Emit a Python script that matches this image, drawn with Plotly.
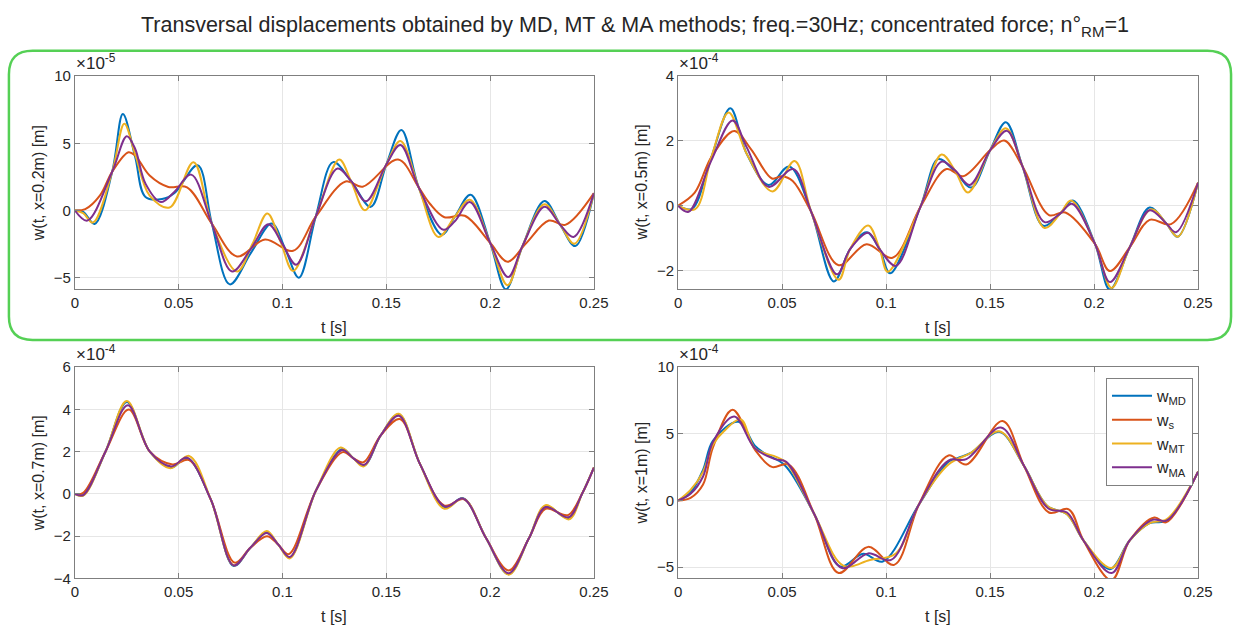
import plotly.graph_objects as go

# ---------------- data ----------------
# Top-left panel: w(t, x=0.2m), values in units of 1e-5 m
TL_MD_t = [0, 0.004, 0.0095, 0.018, 0.0231, 0.029, 0.034, 0.042, 0.048, 0.0591, 0.066, 0.0746, 0.085, 0.0948, 0.1014, 0.1079, 0.116, 0.1244, 0.133, 0.1425, 0.15, 0.1573, 0.1656, 0.1767, 0.183, 0.1906, 0.2, 0.2076, 0.2156, 0.2262, 0.2338, 0.241, 0.25]
TL_MD = [0, -0.1, -1.0, 2.9, 7.18, 4.0, 1.0, 0.85, 1.3, 3.37, -1.0, -5.5, -3.1, -0.97, -2.9, -5.0, -0.46, 3.6, 2.2, 0.27, 3.42, 6.0, 1.72, -1.8, -0.46, 1.17, -2.4, -5.87, -2.65, 0.7, -1.07, -2.65, 1.29]
TL_S_t = [0, 0.005, 0.012, 0.018, 0.0258, 0.029, 0.036, 0.045, 0.054, 0.066, 0.0781, 0.0916, 0.1051, 0.116, 0.1304, 0.1386, 0.1557, 0.1656, 0.171, 0.178, 0.1878, 0.2, 0.2084, 0.217, 0.2283, 0.2362, 0.25]
TL_S = [0, 0.1, 1.1, 2.9, 4.34, 4.1, 2.6, 1.75, 1.72, -1.0, -3.42, -2.16, -3.0, -0.46, 2.16, 1.77, 3.79, 1.72, 0.5, -0.5, -0.39, -2.4, -3.81, -2.5, -0.75, -1.07, 1.29]
TL_MT_t = [0, 0.004, 0.0087, 0.018, 0.0238, 0.029, 0.036, 0.0456, 0.0571, 0.066, 0.0781, 0.0855, 0.0927, 0.099, 0.1051, 0.116, 0.1273, 0.133, 0.1397, 0.15, 0.1568, 0.1656, 0.1751, 0.183, 0.1902, 0.2, 0.2084, 0.2156, 0.2262, 0.2338, 0.2406, 0.25]
TL_MT = [0, -0.2, -0.9, 2.9, 6.46, 4.2, 1.1, 0.22, 3.6, -1.0, -4.54, -2.5, -0.22, -2.3, -4.5, -0.46, 3.79, 2.2, 0.02, 3.42, 5.17, 1.72, -1.97, -0.46, 0.8, -2.4, -5.56, -2.65, 0.46, -1.07, -2.48, 1.29]
TL_MA_t = [0, 0.006, 0.018, 0.025, 0.029, 0.034, 0.0414, 0.048, 0.056, 0.066, 0.0757, 0.085, 0.0932, 0.1, 0.1066, 0.116, 0.1265, 0.133, 0.1402, 0.15, 0.1568, 0.1656, 0.1775, 0.183, 0.1902, 0.2, 0.2087, 0.2156, 0.2262, 0.2338, 0.2402, 0.25]
TL_MA = [0, -0.75, 2.9, 5.53, 4.6, 2.0, 0.63, 1.4, 2.67, -1.0, -4.54, -2.8, -1.02, -2.5, -4.03, -0.46, 3.13, 2.2, 0.68, 3.42, 4.88, 1.72, -1.43, -0.8, 0.63, -2.4, -4.95, -2.65, 0.27, -1.07, -1.97, 1.29]

# Top-right panel: w(t, x=0.5m), units of 1e-4 m
TR_MD_t = [0, 0.0066, 0.016, 0.0251, 0.033, 0.0435, 0.0534, 0.064, 0.0749, 0.0827, 0.0906, 0.0969, 0.1019, 0.1165, 0.1251, 0.133, 0.141, 0.15, 0.1576, 0.1656, 0.1756, 0.1838, 0.1898, 0.2005, 0.2076, 0.2171, 0.2267, 0.2346, 0.2402, 0.25]
TR_MD = [0, -0.1, 1.5, 3.01, 1.6, 0.64, 1.21, -0.19, -2.34, -1.34, -0.82, -1.34, -2.09, -0.04, 1.44, 1.06, 0.56, 1.71, 2.58, 1.21, -0.62, -0.24, 0.16, -1.19, -2.59, -1.29, -0.06, -0.54, -0.96, 0.71]
TR_S_t = [0, 0.008, 0.016, 0.027, 0.035, 0.0451, 0.05, 0.0551, 0.064, 0.0772, 0.0906, 0.1031, 0.1165, 0.129, 0.137, 0.15, 0.1568, 0.1656, 0.1783, 0.1862, 0.2005, 0.2076, 0.2171, 0.2267, 0.237, 0.25]
TR_S = [0, 0.4, 1.5, 2.31, 1.75, 0.84, 0.91, 0.76, -0.19, -1.84, -1.19, -1.61, -0.04, 1.13, 0.91, 1.71, 2.01, 1.21, -0.29, -0.21, -1.19, -2.02, -1.29, -0.44, -0.57, 0.71]
TR_MT_t = [0, 0.0082, 0.016, 0.0243, 0.033, 0.0454, 0.056, 0.064, 0.0772, 0.0827, 0.0914, 0.0969, 0.1008, 0.1165, 0.1267, 0.133, 0.1394, 0.15, 0.1576, 0.1656, 0.1762, 0.1838, 0.1889, 0.2005, 0.2084, 0.2171, 0.2275, 0.2346, 0.2402, 0.25]
TR_MT = [0, -0.11, 1.5, 2.88, 1.6, 0.44, 1.38, -0.19, -2.29, -1.34, -0.61, -1.34, -2.04, -0.04, 1.58, 1.1, 0.41, 1.71, 2.39, 1.21, -0.69, -0.24, 0.16, -1.19, -2.54, -1.29, -0.11, -0.54, -0.96, 0.71]
TR_MA_t = [0, 0.005, 0.016, 0.0262, 0.033, 0.0435, 0.0553, 0.064, 0.0764, 0.0827, 0.0914, 0.0969, 0.1047, 0.1165, 0.1267, 0.133, 0.1402, 0.15, 0.1581, 0.1656, 0.1762, 0.1838, 0.1894, 0.2005, 0.2076, 0.2171, 0.2267, 0.2346, 0.2394, 0.25]
TR_MA = [0, -0.19, 1.4, 2.63, 1.8, 0.58, 1.13, -0.19, -2.12, -1.34, -0.84, -1.34, -1.86, -0.04, 1.36, 1.1, 0.64, 1.71, 2.31, 1.21, -0.51, -0.24, 0.06, -1.19, -2.36, -1.29, -0.14, -0.54, -0.82, 0.71]

# Bottom-left panel: w(t, x=0.7m), units of 1e-4 m
BL_MD_t = [0, 0.004, 0.0147, 0.025, 0.0361, 0.0464, 0.054, 0.0655, 0.0765, 0.0845, 0.0924, 0.098, 0.1035, 0.1162, 0.1288, 0.134, 0.1394, 0.1473, 0.156, 0.1663, 0.1783, 0.187, 0.1981, 0.2089, 0.2187, 0.2267, 0.2378, 0.2444, 0.25]
BL_MD = [0, -0.06, 2.0, 4.35, 2.0, 1.25, 1.7, -0.27, -3.41, -2.55, -1.83, -2.4, -3.01, 0.18, 2.13, 1.7, 1.35, 2.77, 3.76, 1.4, -0.65, -0.2, -2.1, -3.8, -2.1, -0.58, -1.14, 0.03, 1.25]
BL_S_t = [0, 0.004, 0.0147, 0.026, 0.0361, 0.047, 0.055, 0.0655, 0.077, 0.0845, 0.0925, 0.098, 0.103, 0.1162, 0.129, 0.134, 0.139, 0.1473, 0.1565, 0.1663, 0.178, 0.1875, 0.1981, 0.209, 0.2187, 0.2267, 0.2375, 0.2444, 0.25]
BL_S = [0, 0.05, 2.0, 4.0, 2.0, 1.4, 1.6, -0.27, -3.25, -2.55, -2.0, -2.4, -2.85, 0.18, 1.98, 1.7, 1.5, 2.77, 3.55, 1.4, -0.55, -0.25, -2.1, -3.62, -2.1, -0.7, -1.0, 0.03, 1.25]
BL_MT_t = [0, 0.004, 0.0147, 0.025, 0.0361, 0.046, 0.055, 0.0655, 0.0765, 0.0845, 0.0924, 0.098, 0.1035, 0.1162, 0.128, 0.134, 0.139, 0.1473, 0.156, 0.1663, 0.178, 0.187, 0.1981, 0.209, 0.2187, 0.2267, 0.238, 0.2444, 0.25]
BL_MT = [0, -0.08, 2.0, 4.4, 2.0, 1.22, 1.8, -0.27, -3.38, -2.55, -1.75, -2.4, -3.05, 0.18, 2.2, 1.7, 1.3, 2.77, 3.8, 1.4, -0.7, -0.22, -2.1, -3.82, -2.1, -0.53, -1.2, 0.03, 1.25]
BL_MA_t = [0, 0.004, 0.0147, 0.0255, 0.0361, 0.0464, 0.054, 0.0655, 0.0765, 0.0845, 0.0924, 0.098, 0.1035, 0.1162, 0.1288, 0.134, 0.1394, 0.1473, 0.156, 0.1663, 0.1783, 0.187, 0.1981, 0.2089, 0.2187, 0.2267, 0.2378, 0.2444, 0.25]
BL_MA = [0, -0.05, 2.0, 4.2, 2.0, 1.3, 1.72, -0.27, -3.38, -2.55, -1.85, -2.4, -2.98, 0.18, 2.08, 1.7, 1.38, 2.77, 3.7, 1.4, -0.6, -0.22, -2.1, -3.75, -2.1, -0.62, -1.1, 0.03, 1.25]

# Bottom-right panel: w(t, x=1m), units of 1e-4 m
BR_MD_t = [0, 0.006, 0.012, 0.0168, 0.029, 0.037, 0.042, 0.0513, 0.0655, 0.078, 0.089, 0.0984, 0.1158, 0.13, 0.1346, 0.141, 0.1544, 0.1663, 0.1775, 0.187, 0.1949, 0.2076, 0.2171, 0.2267, 0.235, 0.25]
BR_MD = [0, 0.6, 2.3, 4.5, 5.9, 4.1, 3.5, 2.65, -1.03, -4.95, -4.0, -4.58, -0.3, 2.9, 3.2, 3.6, 5.15, 2.6, -0.42, -1.03, -3.0, -5.15, -3.0, -1.7, -1.5, 2.16]
BR_S_t = [0, 0.006, 0.012, 0.0168, 0.0262, 0.037, 0.0451, 0.0532, 0.0655, 0.0772, 0.0914, 0.1039, 0.1158, 0.13, 0.1386, 0.156, 0.1663, 0.1783, 0.1878, 0.1949, 0.2084, 0.2171, 0.229, 0.2346, 0.25]
BR_S = [0, 0.2, 1.2, 4.0, 6.81, 3.8, 2.52, 2.7, -1.03, -5.44, -3.48, -4.83, -0.3, 3.38, 2.7, 5.96, 2.6, -0.9, -0.66, -3.0, -5.98, -3.0, -1.27, -1.64, 2.16]
BR_MT_t = [0, 0.006, 0.012, 0.0168, 0.022, 0.0301, 0.037, 0.0474, 0.052, 0.0655, 0.0796, 0.0922, 0.1047, 0.1158, 0.13, 0.141, 0.1544, 0.1663, 0.1775, 0.187, 0.1949, 0.2084, 0.2171, 0.2267, 0.235, 0.25]
BR_MT = [0, 0.8, 2.15, 4.2, 5.2, 6.08, 3.9, 3.26, 2.85, -1.03, -4.9, -4.46, -3.97, -0.3, 2.7, 3.6, 5.2, 2.6, -0.42, -1.03, -3.0, -5.07, -3.0, -1.7, -1.4, 2.16]
BR_MA_t = [0, 0.006, 0.012, 0.0168, 0.027, 0.037, 0.0466, 0.052, 0.0655, 0.0788, 0.0914, 0.1024, 0.1158, 0.13, 0.1386, 0.1552, 0.1663, 0.178, 0.187, 0.1949, 0.2084, 0.2171, 0.228, 0.235, 0.25]
BR_MA = [0, 0.5, 1.8, 4.4, 6.3, 3.9, 3.1, 2.9, -1.03, -5.07, -3.97, -4.46, -0.3, 3.0, 3.1, 5.47, 2.6, -0.6, -0.9, -3.0, -5.44, -3.0, -1.45, -1.5, 2.16]

SERIES_NAMES = ["w<sub>MD</sub>", "w<sub>s</sub>", "w<sub>MT</sub>", "w<sub>MA</sub>"]
COLORS = ["#0072BD", "#D95319", "#EDB120", "#7E2F8E"]

PANELS = [
    dict(name="TL", data=[(TL_MD_t, TL_MD), (TL_S_t, TL_S), (TL_MT_t, TL_MT), (TL_MA_t, TL_MA)],
         yrange=[-5.87, 10], ytick=[-5, 0, 5, 10], exp="-5", ylabel="w(t, x=0.2m) [m]"),
    dict(name="TR", data=[(TR_MD_t, TR_MD), (TR_S_t, TR_S), (TR_MT_t, TR_MT), (TR_MA_t, TR_MA)],
         yrange=[-2.585, 4], ytick=[-2, 0, 2, 4], exp="-4", ylabel="w(t, x=0.5m) [m]"),
    dict(name="BL", data=[(BL_MD_t, BL_MD), (BL_S_t, BL_S), (BL_MT_t, BL_MT), (BL_MA_t, BL_MA)],
         yrange=[-4, 6], ytick=[-4, -2, 0, 2, 4, 6], exp="-4", ylabel="w(t, x=0.7m) [m]"),
    dict(name="BR", data=[(BR_MD_t, BR_MD), (BR_S_t, BR_S), (BR_MT_t, BR_MT), (BR_MA_t, BR_MA)],
         yrange=[-5.85, 10], ytick=[-5, 0, 5, 10], exp="-4", ylabel="w(t, x=1m) [m]"),
]
X_TICKS = [0, 0.05, 0.1, 0.15, 0.2, 0.25]
X_TICKTEXT = ["0", "0.05", "0.1", "0.15", "0.2", "0.25"]
TITLE = "Transversal displacements obtained by MD, MT &amp; MA methods; freq.=30Hz; concentrated force; n°<sub>RM</sub>=1"

# ---------------- layout geometry (pixels) ----------------
W, H = 1250, 640
def px(x): return x / W
def py(y): return 1 - y / H

BOXES = {  # left, right, top, bottom in pixels
    "TL": (72, 599, 69, 288),
    "TR": (684.5, 1212.5, 69, 288),
    "BL": (72, 599, 368, 585),
    "BR": (684.5, 1212.5, 368, 585),
}

FONT = "Liberation Sans, Arial, Helvetica, sans-serif"
TXT = "#262626"
AXC = "#7f7f7f"
GRID = "#e6e6e6"

fig = go.Figure()
annotations = []
for i, p in enumerate(PANELS):
    n = i + 1
    xa = "x" if n == 1 else f"x{n}"
    ya = "y" if n == 1 else f"y{n}"
    for k, (tt, vv) in enumerate(p["data"]):
        fig.add_trace(go.Scatter(
            x=tt, y=vv, mode="lines", xaxis=xa, yaxis=ya,
            line=dict(color=COLORS[k], width=2, shape="spline", smoothing=1.0),
            name=SERIES_NAMES[k], showlegend=(p["name"] == "BR"),
        ))
    l, r, t, b = BOXES[p["name"]]
    xkey = "xaxis" if n == 1 else f"xaxis{n}"
    ykey = "yaxis" if n == 1 else f"yaxis{n}"
    fig.layout[xkey] = dict(
        domain=[px(l), px(r)], anchor=ya, range=[0, 0.25],
        tickvals=X_TICKS, ticktext=X_TICKTEXT, ticks="inside", ticklen=5,
        tickcolor=AXC, showline=True, linecolor=AXC, linewidth=1, mirror="ticks",
        showgrid=True, gridcolor=GRID, zeroline=False,
        tickfont=dict(family=FONT, size=15, color=TXT),
    )
    fig.layout[ykey] = dict(
        domain=[py(b), py(t)], anchor=xa, range=p["yrange"],
        tickvals=p["ytick"], ticks="inside", ticklen=5,
        tickcolor=AXC, showline=True, linecolor=AXC, linewidth=1, mirror="ticks",
        showgrid=True, gridcolor=GRID, zeroline=False,
        tickfont=dict(family=FONT, size=15, color=TXT),
    )
    # exponent label
    annotations.append(dict(
        text=f"×10<sup>{p['exp']}</sup>", xref="paper", yref="paper",
        x=px(l - 1), y=py(t - 1), xanchor="left", yanchor="bottom", showarrow=False,
        font=dict(family=FONT, size=17, color=TXT),
    ))
    # x label
    annotations.append(dict(
        text="t [s]", xref="paper", yref="paper",
        x=px((l + r) / 2), y=py(b + 39), xanchor="center", yanchor="middle", showarrow=False,
        font=dict(family=FONT, size=16, color=TXT),
    ))
    # y label
    annotations.append(dict(
        text=p["ylabel"], xref="paper", yref="paper", textangle=-90,
        x=px(l - 37), y=py((t + b) / 2), xanchor="center", yanchor="middle", showarrow=False,
        font=dict(family=FONT, size=16, color=TXT),
    ))

# title
annotations.append(dict(
    text=TITLE, xref="paper", yref="paper", x=px(641), y=py(2),
    xanchor="center", yanchor="top", showarrow=False,
    font=dict(family=FONT, size=21.5, color=TXT),
))

# green rounded frame around the top row (pixels -> paper)
L0, R0, T0, B0, RAD = 5, 1246, 43, 340, 24
def P(x, y): return f"{px(x):.5f},{py(y):.5f}"
path = (f"M {P(L0 + RAD, T0)} L {P(R0 - RAD, T0)} Q {P(R0, T0)} {P(R0, T0 + RAD)} "
        f"L {P(R0, B0 - RAD)} Q {P(R0, B0)} {P(R0 - RAD, B0)} "
        f"L {P(L0 + RAD, B0)} Q {P(L0, B0)} {P(L0, B0 - RAD)} "
        f"L {P(L0, T0 + RAD)} Q {P(L0, T0)} {P(L0 + RAD, T0)} Z")

fig.update_layout(
    width=W, height=H, margin=dict(l=0, r=0, t=0, b=0),
    paper_bgcolor="white", plot_bgcolor="white",
    annotations=annotations,
    shapes=[dict(type="path", path=path, xref="paper", yref="paper",
                 line=dict(color="#55D055", width=2.5), fillcolor="rgba(0,0,0,0)", layer="above")],
    legend=dict(x=px(1119), y=py(379), xanchor="left", yanchor="top",
                bgcolor="white", bordercolor="#808080", borderwidth=1,
                font=dict(family=FONT, size=16, color=TXT), tracegroupgap=0,
                itemwidth=40),
    showlegend=True,
)

fig.write_html("out.html")
